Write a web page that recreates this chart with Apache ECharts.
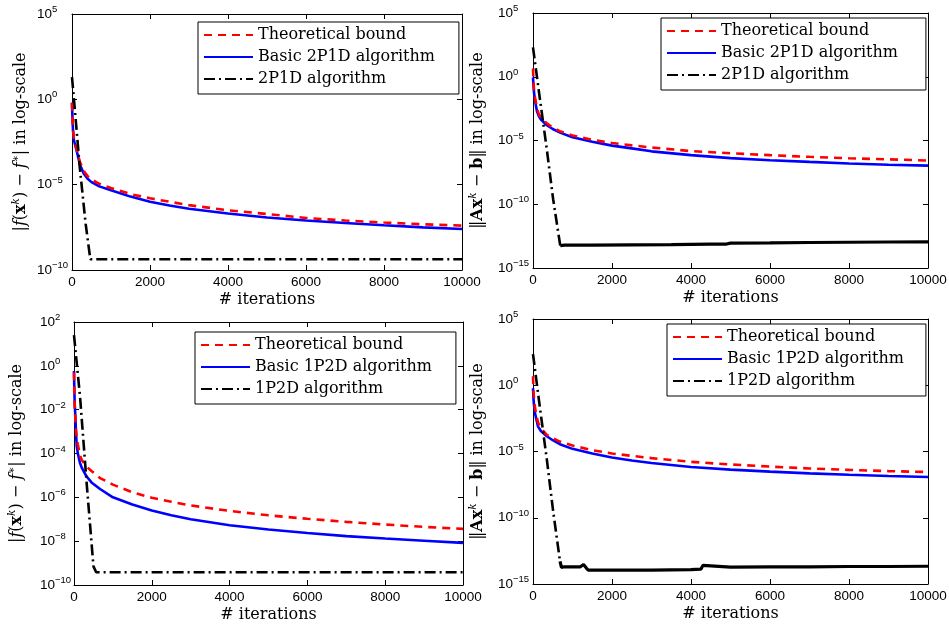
<!DOCTYPE html>
<html>
<head>
<meta charset="utf-8">
<script src="https://cdn.jsdelivr.net/npm/echarts@6/dist/echarts.min.js"></script>
<style>
html,body{margin:0;padding:0;background:#fff;}
#chart{width:949px;height:632px;}
</style>
</head>
<body>
<div id="chart"></div>
<script>
// ---------- data (values are log10 of the plotted quantity) ----------
const xTicks = [0, 2000, 4000, 6000, 8000, 10000];

// Top-left: |f(x^k) - f*|, 2P1D
const tlIter  = [0, 10, 25, 50, 100, 150, 200, 300, 400, 500, 700, 1000, 1500, 2000, 2500, 3000, 4000, 5000, 6000, 7000, 8000, 9000, 10000];
const tlBound = [-0.2, -1.0, -1.75, -2.3, -2.75, -3.2, -3.65, -4.2, -4.5, -4.7, -4.95, -5.2, -5.55, -5.8, -6.0, -6.2, -6.5, -6.72, -6.95, -7.1, -7.22, -7.32, -7.4];
const tlBasic = [-0.2, -1.0, -1.8, -2.4, -2.85, -3.3, -3.8, -4.35, -4.65, -4.85, -5.1, -5.33, -5.7, -6.0, -6.22, -6.41, -6.69, -6.92, -7.1, -7.25, -7.38, -7.5, -7.6];
const tlAlgIter = [0, 50, 200, 350, 470, 10000];
const tlAlg     = [1.3, 0, -4.0, -7.3, -9.37, -9.37];

// Top-right: ||Ax^k - b||, 2P1D
const trIter  = [0, 10, 25, 50, 100, 150, 200, 350, 500, 700, 1000, 1500, 2000, 2500, 3000, 4000, 5000, 6000, 7000, 8000, 9000, 10000];
const trBound = [0.65, -0.2, -1.0, -1.6, -2.5, -2.95, -3.2, -3.65, -4.0, -4.3, -4.6, -4.95, -5.2, -5.38, -5.55, -5.83, -6.0, -6.15, -6.28, -6.39, -6.48, -6.57];
const trBasic = [-0.05, -0.6, -1.2, -1.85, -2.7, -3.1, -3.35, -3.8, -4.1, -4.4, -4.75, -5.1, -5.4, -5.62, -5.85, -6.15, -6.38, -6.55, -6.68, -6.8, -6.9, -6.97];
const trAlgDropIter = [0, 180, 350, 510, 690];
const trAlgDrop     = [2.3, -1.85, -5.7, -9.6, -13.25];
const trAlgFlatIter = [690, 720, 800, 1500, 2500, 3500, 4500, 4900, 5000, 6000, 7000, 8000, 9000, 10000];
const trAlgFlat     = [-13.25, -13.4, -13.2, -13.2, -13.18, -13.16, -13.13, -13.12, -13.05, -13.03, -13.0, -12.98, -12.96, -12.95];

// Bottom-left: |f(x^k) - f*|, 1P2D
const blIter  = [0, 10, 20, 35, 50, 70, 100, 155, 200, 325, 450, 670, 1000, 1500, 2000, 2500, 3000, 4000, 5000, 6000, 7000, 8000, 9000, 10000];
const blBound = [-0.3, -1.3, -1.9, -2.4, -2.9, -3.3, -3.6, -4.1, -4.3, -4.6, -4.8, -5.12, -5.42, -5.77, -6.02, -6.2, -6.37, -6.62, -6.82, -6.98, -7.12, -7.24, -7.35, -7.44];
const blBasic = [-0.24, -1.2, -1.8, -2.3, -3.0, -3.66, -4.0, -4.44, -4.65, -5.05, -5.32, -5.62, -6.0, -6.33, -6.6, -6.82, -7.0, -7.27, -7.47, -7.63, -7.77, -7.88, -7.98, -8.08];
const blAlgIter = [0, 155, 325, 500, 570, 10000];
const blAlg     = [1.4, -1.4, -5.35, -9.15, -9.42, -9.42];

// Bottom-right: ||Ax^k - b||, 1P2D
const brIter  = [0, 10, 25, 50, 125, 200, 350, 500, 680, 1000, 1500, 2000, 2500, 3000, 4000, 5000, 6000, 7000, 8000, 9000, 10000];
const brBound = [0.68, -0.3, -1.0, -1.7, -2.8, -3.25, -3.75, -4.0, -4.25, -4.55, -4.9, -5.15, -5.33, -5.5, -5.78, -5.98, -6.14, -6.28, -6.39, -6.48, -6.55];
const brBasic = [-0.23, -0.9, -1.5, -2.1, -3.1, -3.45, -3.85, -4.15, -4.45, -4.8, -5.15, -5.45, -5.68, -5.87, -6.17, -6.37, -6.52, -6.65, -6.76, -6.85, -6.93];
const brAlgDropIter = [0, 180, 350, 510, 684];
const brAlgDrop     = [2.35, -1.8, -5.6, -9.5, -13.3];
const brAlgFlatIter = [684, 720, 800, 1000, 1200, 1280, 1350, 1400, 2000, 3000, 4000, 4250, 4300, 4350, 5000, 6000, 7000, 8000, 9000, 10000];
const brAlgFlat     = [-13.3, -13.75, -13.7, -13.7, -13.7, -13.53, -13.8, -13.96, -13.96, -13.95, -13.92, -13.88, -13.6, -13.72, -13.72, -13.7, -13.7, -13.68, -13.68, -13.66];

// y axis ranges (exponents) and tick steps
const yExpTL = [-10, 5, 5];
const yExpTR = [-15, 5, 5];
const yExpBL = [-10, 2, 2];
const yExpBR = [-15, 5, 5];

const legendTop = ['Theoretical bound', 'Basic 2P1D algorithm', '2P1D algorithm'];
const legendBot = ['Theoretical bound', 'Basic 1P2D algorithm', '1P2D algorithm'];

// ---------- styling / building ----------
const SERIF = 'DejaVu Serif';
const SANS = 'Liberation Sans';
const toPts = (xs, ys) => xs.map((x, i) => [x, Math.pow(10, ys[i])]);

const grids = [
  {left: 72, top: 14, width: 390, height: 256},
  {left: 533, top: 13, width: 395, height: 255},
  {left: 74, top: 322, width: 389, height: 263},
  {left: 533, top: 319, width: 395, height: 265}
];
const yRanges = [yExpTL, yExpTR, yExpBL, yExpBR];
const nameF = '|{it|f}({bx|x}{sup|k}) − {it|f}{sup|∗}| in log-scale';
const nameA = '‖{bx|A}{bx|x}{sup|k} − {bx|b}‖ in log-scale';
const yNames = [nameF, nameA, nameF, nameA];
const yNameGaps = [41, 45, 47, 45];
const yLabelMargins = [35, 35, 34, 35];

const NFS = 16;
const richName = {
  it: {fontFamily: SERIF, fontSize: NFS, fontStyle: 'italic', color: '#000'},
  bx: {fontFamily: SERIF, fontSize: NFS, fontWeight: 'bold', color: '#000'},
  sup: {fontFamily: SERIF, fontSize: 10.5, fontStyle: 'italic', color: '#000', verticalAlign: 'top', padding: [0, 0, 9, 0]}
};

function expLabel(v) {
  const e = Math.round(Math.log10(v));
  return '{b|10}{s|' + (e < 0 ? '−' + (-e) : String(e)) + '}';
}

const axisLineStyle = {show: true, onZero: false, lineStyle: {color: '#000', width: 1}};
const tickStyle = {show: true, inside: true, length: 5, lineStyle: {color: '#000', width: 1}};

const xAxes = [], yAxes = [];
grids.forEach((g, i) => {
  xAxes.push({
    type: 'value', gridIndex: i, position: 'bottom',
    min: xTicks[0], max: xTicks[xTicks.length - 1], interval: xTicks[1] - xTicks[0],
    axisLine: axisLineStyle, axisTick: tickStyle, splitLine: {show: false},
    axisLabel: {show: true, margin: 5, color: '#000', fontFamily: SANS, fontSize: 13.5, formatter: v => String(v)},
    name: '# iterations', nameLocation: 'middle', nameGap: 22,
    nameTextStyle: {fontFamily: SERIF, fontSize: 16, color: '#000'}
  });
});
grids.forEach((g, i) => {
  xAxes.push({
    type: 'value', gridIndex: i, position: 'top',
    min: xTicks[0], max: xTicks[xTicks.length - 1], interval: xTicks[1] - xTicks[0],
    axisLine: axisLineStyle, axisTick: tickStyle, splitLine: {show: false},
    axisLabel: {show: false}
  });
});
grids.forEach((g, i) => {
  const r = yRanges[i];
  yAxes.push({
    type: 'log', logBase: 10, gridIndex: i, position: 'left',
    min: Math.pow(10, r[0]), max: Math.pow(10, r[1]), interval: r[2],
    axisLine: axisLineStyle, axisTick: tickStyle, splitLine: {show: false}, minorTick: {show: false},
    axisLabel: {
      show: true, align: 'left', margin: yLabelMargins[i], formatter: expLabel,
      rich: {
        b: {fontFamily: SANS, fontSize: 13.5, color: '#000'},
        s: {fontFamily: SANS, fontSize: 9.5, color: '#000', verticalAlign: 'top', padding: [0, 0, 9, 0]}
      }
    },
    name: yNames[i], nameLocation: 'middle', nameRotate: 90, nameGap: yNameGaps[i],
    nameTextStyle: {fontFamily: SERIF, fontSize: NFS, color: '#000', rich: richName}
  });
});
grids.forEach((g, i) => {
  const r = yRanges[i];
  yAxes.push({
    type: 'log', logBase: 10, gridIndex: i, position: 'right',
    min: Math.pow(10, r[0]), max: Math.pow(10, r[1]), interval: r[2],
    axisLine: axisLineStyle, axisTick: tickStyle, splitLine: {show: false}, minorTick: {show: false},
    axisLabel: {show: false}
  });
});

const RED = {color: '#ff0000', width: 2.6, type: [8, 6]};
const BLUE = {color: '#0000ff', width: 2.6, type: 'solid'};
const BLACKDD = {color: '#000000', width: 2.6, type: [11, 4, 2, 4]};
const BLACKFLAT = {color: '#000000', width: 3.2, type: 'solid'};

function line(name, gi, pts, ls, z) {
  return {
    type: 'line', name: name, xAxisIndex: gi, yAxisIndex: gi, data: pts,
    symbol: 'none', showSymbol: false, smooth: false,
    lineStyle: ls, itemStyle: {color: ls.color},
    emphasis: {disabled: true}, z: z
  };
}

const series = [
  line(legendTop[0], 0, toPts(tlIter, tlBound), RED, 3),
  line(legendTop[1], 0, toPts(tlIter, tlBasic), BLUE, 2),
  line(legendTop[2], 0, toPts(tlAlgIter, tlAlg), BLACKDD, 4),

  line(legendTop[0], 1, toPts(trIter, trBound), RED, 3),
  line(legendTop[1], 1, toPts(trIter, trBasic), BLUE, 2),
  line(legendTop[2], 1, toPts(trAlgDropIter, trAlgDrop), BLACKDD, 4),
  line('2P1D algorithm (plateau)', 1, toPts(trAlgFlatIter, trAlgFlat), BLACKFLAT, 4),

  line(legendBot[0], 2, toPts(blIter, blBound), RED, 3),
  line(legendBot[1], 2, toPts(blIter, blBasic), BLUE, 2),
  line(legendBot[2], 2, toPts(blAlgIter, blAlg), BLACKDD, 4),

  line(legendBot[0], 3, toPts(brIter, brBound), RED, 3),
  line(legendBot[1], 3, toPts(brIter, brBasic), BLUE, 2),
  line(legendBot[2], 3, toPts(brAlgDropIter, brAlgDrop), BLACKDD, 4),
  line('1P2D algorithm (plateau)', 3, toPts(brAlgFlatIter, brAlgFlat), BLACKFLAT, 4)
];

function legendAt(left, top, names, padRight) {
  return {
    data: names, orient: 'vertical', left: left, top: top,
    itemWidth: 49, itemHeight: 16, itemGap: 6,
    padding: [5, padRight, 7, 5],
    borderColor: '#000', borderWidth: 1, backgroundColor: '#fff',
    selectedMode: false,
    itemStyle: {opacity: 0, borderWidth: 0},
    textStyle: {fontFamily: SERIF, fontSize: 16, color: '#000'}
  };
}

const option = {
  animation: false,
  backgroundColor: '#fff',
  grid: grids.map(g => Object.assign({containLabel: false, outerBoundsMode: 'none'}, g)),
  xAxis: xAxes,
  yAxis: yAxes,
  legend: [
    legendAt(198, 22, legendTop, 24),
    legendAt(661, 18, legendTop, 28),
    legendAt(195, 332, legendBot, 24),
    legendAt(667, 324, legendBot, 22)
  ],
  series: series
};

const chart = echarts.init(document.getElementById('chart'), null, {renderer: 'canvas'});
chart.setOption(option);
</script>
</body>
</html>
